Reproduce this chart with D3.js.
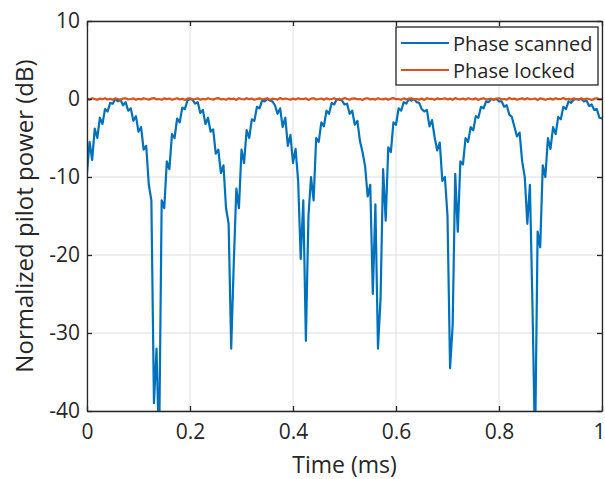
<!DOCTYPE html>
<html>
<head>
<meta charset="utf-8">
<script src="https://cdn.jsdelivr.net/npm/d3@7"></script>
<style>
  body { margin: 0; background: #fff; }
  text { font-family: "Open Sans", "Noto Sans", sans-serif; fill: #262626; }
</style>
</head>
<body>
<div id="chart"></div>
<script>
// time step of the sampled traces (ms)
var sampleStep = 0.005;

// Phase scanned trace (dB), one value every 0.005 ms from 0 to 1 ms
var phaseScanned = [
  -9.5, -5.5, -7.8, -3.8, -5.0, -2.4, -3.2, -1.3, -1.6, -0.5,
  -0.6, 0, -0.3, -0.1, -0.8, -0.4, -1.5, -1.2, -2.8, -2.2,
  -4.2, -3.6, -6.5, -6.0, -11, -13, -39, -32, -45, -13,
  -14, -8, -9, -4.5, -5, -2.5, -3, -1.1, -1.3, -0.2,
  0, -0.1, -0.6, -0.4, -1.8, -1.4, -3.2, -2.4, -4.2, -3.9,
  -7, -6.5, -9.5, -8.5, -14, -16, -32, -21, -11.5, -14,
  -6.5, -8.2, -4, -5.0, -2.6, -2.8, -1.0, -1.2, -0.2, -0.3,
  0, -0.2, -0.3, -0.8, -1.9, -1.2, -3.6, -2.4, -6.0, -4.6,
  -8.2, -6.4, -10.5, -20.5, -13, -31, -15, -10, -13, -5.0,
  -5.5, -3.0, -3.5, -1.5, -1.9, -0.5, -0.7, 0, -0.1, -0.2,
  -0.7, -0.6, -1.9, -1.5, -3.3, -2.8, -5.4, -6.8, -8.6, -12.5,
  -11, -25, -13.5, -32, -25.6, -9, -15.6, -6.2, -6.8, -3.0,
  -3.3, -1.2, -1.5, -0.4, -0.6, 0, -0.2, 0, -0.4, -0.5,
  -1.3, -1.6, -1.4, -3.5, -2.7, -4.9, -6.6, -5.6, -10.5, -10,
  -15, -34.5, -29, -9.6, -17, -8, -8.4, -5.0, -5.5, -3.6,
  -4.0, -2.2, -2.4, -1.0, -1.2, -0.3, -0.4, 0, -0.1, 0,
  -0.3, -0.3, -1.0, -0.8, -2.0, -2.3, -3.6, -4.8, -4.3, -8,
  -10, -16, -11, -26.5, -45, -17, -19, -8.5, -10, -5.0,
  -6.4, -3.6, -4.5, -2.3, -2.6, -1.0, -1.3, -0.3, -0.5, -0.1,
  0, -0.1, 0, -0.3, -0.2, -0.9, -0.7, -1.4, -1.3, -2.4,
  -2.5
];

// Phase locked trace (dB), one value every 0.005 ms
var phaseLocked = [
  0.05, -0.08, 0.1, 0, -0.1, 0.06, -0.04, 0.1, -0.06, 0.02,
  -0.1, 0.08, 0, -0.12, 0.06, 0.1, -0.05, 0, 0.08, -0.1,
  0.04, -0.06, 0.1, 0, -0.08, 0.05, 0.12, -0.04, 0, -0.1,
  0.08, -0.02, 0.06, -0.1, 0, 0.1, -0.06, 0.04, -0.12, 0.05,
  0.1, -0.04, 0, 0.08, -0.1, 0.02, -0.06, 0.1, 0, -0.08,
  0.06, 0.12, -0.05, 0, -0.1, 0.08, -0.02, 0.05, -0.12, 0.1,
  0, -0.06, 0.1, -0.04, 0.06, -0.1, 0, 0.08, -0.06, 0.02,
  0.1, -0.1, 0.04, 0, -0.08, 0.12, -0.04, 0.06, 0, -0.1,
  0.05, -0.06, 0.1, -0.02, 0, 0.08, -0.12, 0.04, 0.1, -0.05,
  0, 0.06, -0.1, 0.08, -0.04, 0, 0.1, -0.08, 0.02, -0.06,
  0.12, 0, -0.1, 0.05, 0.08, -0.04, 0, -0.12, 0.06, 0.1,
  -0.06, 0.02, -0.08, 0.1, 0, -0.05, 0.06, -0.1, 0.04, 0.12,
  -0.02, 0, -0.1, 0.08, -0.06, 0.05, 0.1, -0.04, 0, -0.08,
  0.06, -0.12, 0.1, 0, 0.04, -0.1, 0.08, -0.02, 0, 0.1,
  -0.06, 0.05, -0.1, 0.12, 0, -0.04, 0.06, -0.08, 0.1, 0,
  -0.05, 0.08, -0.12, 0.02, 0.1, -0.06, 0, 0.04, -0.1, 0.06,
  0.1, -0.04, 0, -0.08, 0.12, -0.02, 0.05, -0.1, 0, 0.08,
  -0.06, 0.1, -0.04, 0, 0.06, -0.12, 0.08, 0.02, -0.1, 0,
  0.05, -0.08, 0.1, -0.02, 0, 0.12, -0.06, 0.04, -0.1, 0.08,
  0, -0.05, 0.1, -0.08, 0.06, 0, -0.12, 0.04, 0.1, -0.04,
  0
];

var seriesNames = ["Phase scanned", "Phase locked"];
var seriesColors = ["#0072BD", "#D95319"];

var xTicks = [0, 0.2, 0.4, 0.6, 0.8, 1];
var xTickLabels = ["0", "0.2", "0.4", "0.6", "0.8", "1"];
var yTicks = [-40, -30, -20, -10, 0, 10];
var yTickLabels = ["-40", "-30", "-20", "-10", "0", "10"];

// svg size and margins
var svgWidth = 605;
var svgHeight = 479;
var margin = { top: 21, right: 3, bottom: 68, left: 87 };
var chartWidth = svgWidth - margin.left - margin.right;
var chartHeight = svgHeight - margin.top - margin.bottom;

var svg = d3.select("#chart")
  .append("svg")
  .attr("width", svgWidth)
  .attr("height", svgHeight);

var chartGroup = svg.append("g")
  .attr("transform", `translate(${margin.left}, ${margin.top})`);

var xScale = d3.scaleLinear().domain([0, 1]).range([0, chartWidth]);
var yScale = d3.scaleLinear().domain([-40, 10]).range([chartHeight, 0]);

// grid lines
chartGroup.append("g")
  .selectAll("line.vgrid")
  .data(xTicks)
  .enter()
  .append("line")
  .attr("x1", d => xScale(d)).attr("x2", d => xScale(d))
  .attr("y1", 0).attr("y2", chartHeight)
  .attr("stroke", "#dedede").attr("stroke-width", 1);

chartGroup.append("g")
  .selectAll("line.hgrid")
  .data(yTicks)
  .enter()
  .append("line")
  .attr("x1", 0).attr("x2", chartWidth)
  .attr("y1", d => yScale(d)).attr("y2", d => yScale(d))
  .attr("stroke", "#dedede").attr("stroke-width", 1);

// clip the traces to the plot box
svg.append("defs").append("clipPath")
  .attr("id", "plotClip")
  .append("rect")
  .attr("width", chartWidth)
  .attr("height", chartHeight);

var plotArea = chartGroup.append("g").attr("clip-path", "url(#plotClip)");

var traceLine = d3.line()
  .x((d, i) => xScale(i * sampleStep))
  .y(d => yScale(d));

plotArea.append("path")
  .datum(phaseScanned)
  .attr("d", traceLine)
  .attr("fill", "none")
  .attr("stroke", seriesColors[0])
  .attr("stroke-width", 2.2)
  .attr("stroke-linejoin", "round");

plotArea.append("path")
  .datum(phaseLocked)
  .attr("d", traceLine)
  .attr("fill", "none")
  .attr("stroke", seriesColors[1])
  .attr("stroke-width", 2.2)
  .attr("stroke-linejoin", "round");

// axes with inward ticks (box on)
var bottomAxis = d3.axisBottom(xScale)
  .tickValues(xTicks)
  .tickFormat((d, i) => xTickLabels[i])
  .tickSize(-5).tickSizeOuter(0).tickPadding(13);
var topAxis = d3.axisTop(xScale).tickValues(xTicks).tickFormat("").tickSize(-5).tickSizeOuter(0);
var leftAxis = d3.axisLeft(yScale)
  .tickValues(yTicks)
  .tickFormat((d, i) => yTickLabels[i])
  .tickSize(-5).tickSizeOuter(0).tickPadding(7);
var rightAxis = d3.axisRight(yScale).tickValues(yTicks).tickFormat("").tickSize(-5).tickSizeOuter(0);

var xAxisGroup = chartGroup.append("g").attr("transform", `translate(0, ${chartHeight})`).call(bottomAxis);
var axes = [
  xAxisGroup,
  chartGroup.append("g").call(topAxis),
  chartGroup.append("g").call(leftAxis),
  chartGroup.append("g").attr("transform", `translate(${chartWidth}, 0)`).call(rightAxis)
];
axes.forEach(function(a) {
  a.selectAll("path.domain").attr("stroke", "#262626").attr("stroke-width", 1.3);
  a.selectAll(".tick line").attr("stroke", "#262626").attr("stroke-width", 1.3);
  a.selectAll(".tick text")
    .style("font-family", '"Open Sans", sans-serif')
    .style("font-size", "21px")
    .attr("fill", "#262626");
});
// keep the last x label inside the window
xAxisGroup.selectAll(".tick text").filter(d => d === 1).attr("dx", "-3");

// axis labels
chartGroup.append("text")
  .attr("transform", "rotate(-90)")
  .attr("x", -chartHeight / 2)
  .attr("y", -54)
  .attr("text-anchor", "middle")
  .style("font-size", "24px")
  .text("Normalized pilot power (dB)");

chartGroup.append("text")
  .attr("x", chartWidth / 2)
  .attr("y", chartHeight + 62)
  .attr("text-anchor", "middle")
  .style("font-size", "23px")
  .text("Time (ms)");

// legend
var legend = svg.append("g").attr("transform", "translate(396, 27)");
legend.append("rect")
  .attr("width", 202).attr("height", 58)
  .attr("fill", "#fff")
  .attr("stroke", "#262626").attr("stroke-width", 1.3);

var legendItems = legend.selectAll("g.item")
  .data(seriesNames)
  .enter()
  .append("g")
  .attr("transform", (d, i) => `translate(0, ${16 + i * 27})`);

legendItems.append("line")
  .attr("x1", 5).attr("x2", 53)
  .attr("stroke", (d, i) => seriesColors[i])
  .attr("stroke-width", 2);

legendItems.append("text")
  .attr("x", 57)
  .attr("y", 8)
  .style("font-size", "20px")
  .text(d => d);
</script>
</body>
</html>
